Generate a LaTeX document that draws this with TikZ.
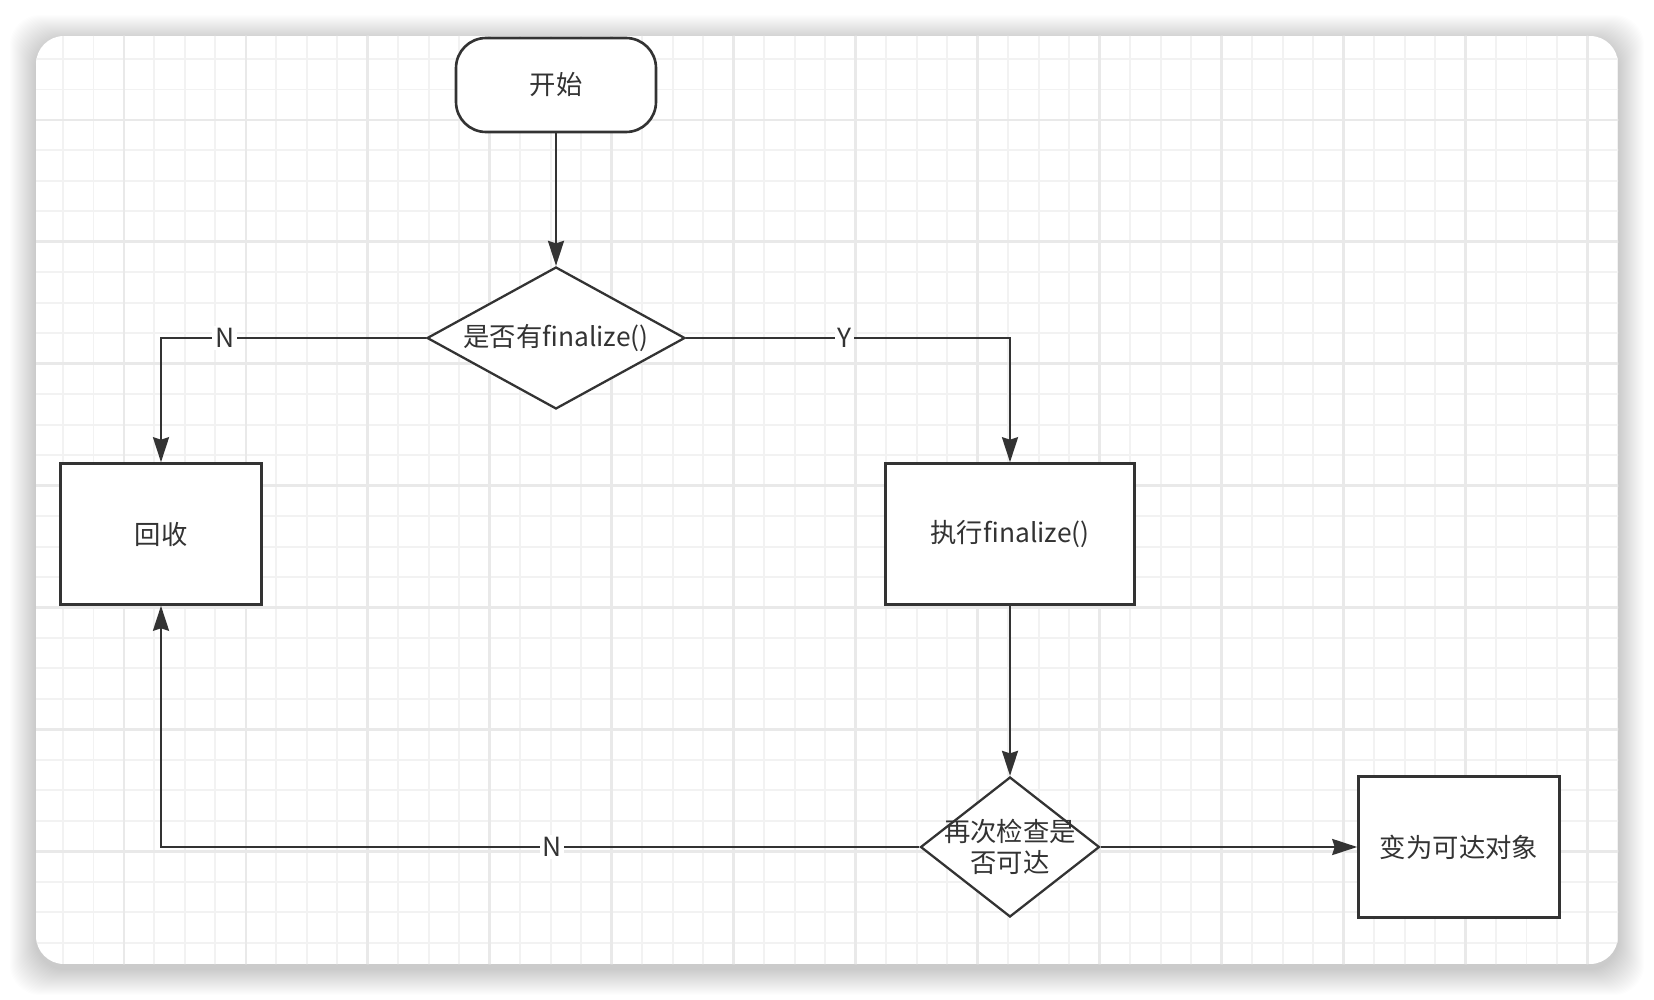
\documentclass[tikz,border=0pt]{standalone}
\usepackage{fontspec}
\setmainfont{Noto Sans CJK SC}
\usetikzlibrary{shapes.geometric, arrows.meta}

\definecolor{ink}{HTML}{333333}
\definecolor{minorgrid}{HTML}{F2F2F2}
\definecolor{majorgrid}{HTML}{E9E9E9}

\tikzset{
  box/.style={draw=ink, line width=1.5pt, fill=white, text=ink, inner sep=0pt,
    minimum width=4.02cm, minimum height=2.82cm},
  decision/.style={diamond, draw=ink, line width=1.3pt, fill=white, text=ink,
    inner sep=0pt, shape aspect=1.8},
  flow/.style={draw=ink, line width=1.4pt,
    -{Stealth[length=0.5cm, width=0.32cm, inset=0.05cm]}},
  yn/.style={fill=white, text=ink, inner sep=1.5pt},
}

\begin{document}
\begin{tikzpicture}[x=0.02cm, y=-0.02cm, font=\fontsize{15}{18}\selectfont]
\useasboundingbox (0,0) rectangle (1654,1000);
%\draw[help lines, color=gray!30] (0,0) grid (1654,1000);

% panel with soft shadow
\foreach \r in {1,...,26}
  \fill[black, opacity=0.006, rounded corners=0.6cm] (36-\r,41-\r) rectangle (1618+\r,969+\r);
\begin{scope}
\clip[rounded corners=0.56cm] (36,36) rectangle (1618,964);
\fill[white] (36,36) rectangle (1618,964);
\foreach \i in {0,...,54}
  \draw[minorgrid, line width=1.1pt] (2+30.49*\i,0) -- (2+30.49*\i,1000);
\foreach \j in {0,...,33}
  \draw[minorgrid, line width=1.1pt] (0,-1.9+30.47*\j) -- (1654,-1.9+30.47*\j);
\foreach \i in {0,...,13}
  \draw[majorgrid, line width=1.6pt] (2+121.96*\i,0) -- (2+121.96*\i,1000);
\foreach \j in {0,...,8}
  \draw[majorgrid, line width=1.6pt] (0,-1.9+121.9*\j) -- (1654,-1.9+121.9*\j);
\end{scope}

\node[box, rounded corners=0.6cm, minimum width=4cm, minimum height=1.88cm] (start) at (556,85) {开始};
\node[decision, minimum width=5.16cm, minimum height=2.84cm] (hasfin) at (556,338) {是否有finalize()};
\node[box] (collect) at (161,534) {回收};
\node[box, minimum width=4.98cm] (runfin) at (1010,534) {执行finalize()};
\node[decision, minimum width=3.58cm, minimum height=2.8cm] (recheck) at (1010,847) {};
\node[text=ink, align=center] (rechecktxt) at (recheck) {再次检查是\\否可达};
\node[box] (reach) at (1459,847) {变为可达对象};

\draw[flow] (start) -- (hasfin);
\draw[flow] (hasfin.west) -| node[yn, pos=0.38] (nolbl) {N} (collect.north);
\draw[flow] (hasfin.east) -| node[yn, pos=0.245] (yeslbl) {Y} (runfin.north);
\draw[flow] (runfin) -- (recheck);
\draw[flow] (recheck.west) -| node[yn, pos=0.242] (nolbl2) {N} (collect.south);
\draw[flow] (recheck) -- (reach);

\end{tikzpicture}
\end{document}
